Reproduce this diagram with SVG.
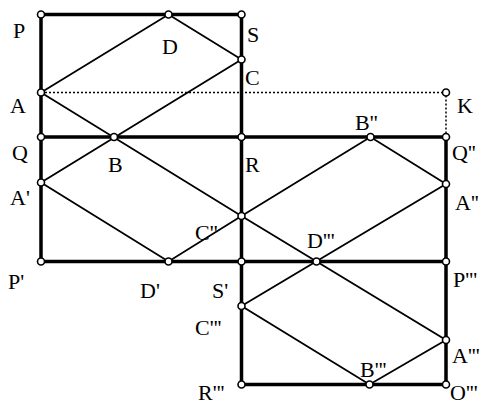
<svg xmlns="http://www.w3.org/2000/svg" width="487" height="405" viewBox="0 0 487 405">
<style>
.frame{stroke:#000;stroke-width:3.5;fill:none;stroke-linecap:square}
.diag{stroke:#000;stroke-width:1.8;fill:none}
.dot{stroke:#000;stroke-width:1.5;fill:none;stroke-dasharray:2 2}
.pt{fill:#fff;stroke:#000;stroke-width:1.6}
text{font-family:"Liberation Serif","Times New Roman",serif;font-size:22px;fill:#000}
</style>
<rect width="487" height="405" fill="#fff"/>
<g id="connectors">
<g id="frames">
<path class="frame" d="M41,14.5 H241.5 V384.5 M41,14.5 V261.5 M41,137 H446 V384.5 M41,261.5 H446 M241.5,384.5 H446"/>
</g>
<g id="dotted">
<path class="dot" d="M41,92.5 H446 V137"/>
</g>
<g id="paths">
<path class="diag" d="M41,92.5 L168.5,14.5 L241.5,59.5 L41,182.5 L168.5,261.5 L241.5,216 L370.5,137 L446,184 L241.5,306 L369.5,384.5 L446,340 L241.5,216 L41,92.5"/>
</g>
</g>
<g id="nodes">
<g id="P"><circle class="pt" cx="41" cy="14.5" r="3.5"/><text x="13" y="38">P</text></g>
<g id="D"><circle class="pt" cx="168.5" cy="14.5" r="3.5"/><text x="162" y="54">D</text></g>
<g id="S"><circle class="pt" cx="241.5" cy="14.5" r="3.5"/><text x="247" y="42">S</text></g>
<g id="C"><circle class="pt" cx="241.5" cy="59.5" r="3.5"/><text x="245" y="85">C</text></g>
<g id="A"><circle class="pt" cx="41" cy="92.5" r="3.5"/><text x="10" y="113">A</text></g>
<g id="K"><circle class="pt" cx="446" cy="92.5" r="3.5"/><text x="457" y="113">K</text></g>
<g id="Q"><circle class="pt" cx="41" cy="137" r="3.5"/><text x="12" y="160">Q</text></g>
<g id="B"><circle class="pt" cx="114" cy="137" r="3.5"/><text x="108" y="172">B</text></g>
<g id="R"><circle class="pt" cx="241.5" cy="137" r="3.5"/><text x="245" y="172">R</text></g>
<g id="B2"><circle class="pt" cx="370.5" cy="137" r="3.5"/><text x="355" y="130">B''</text></g>
<g id="Q2"><circle class="pt" cx="446" cy="137" r="3.5"/><text x="452" y="160">Q''</text></g>
<g id="A1"><circle class="pt" cx="41" cy="182.5" r="3.5"/><text x="10" y="205">A'</text></g>
<g id="A2"><circle class="pt" cx="446" cy="184" r="3.5"/><text x="455" y="210">A''</text></g>
<g id="C2"><circle class="pt" cx="241.5" cy="216" r="3.5"/><text x="195" y="240">C''</text></g>
<g id="P1"><circle class="pt" cx="41" cy="261.5" r="3.5"/><text x="8" y="289">P'</text></g>
<g id="D1"><circle class="pt" cx="168.5" cy="261.5" r="3.5"/><text x="140" y="298">D'</text></g>
<g id="S1"><circle class="pt" cx="241.5" cy="261.5" r="3.5"/><text x="212" y="298">S'</text></g>
<g id="D3"><circle class="pt" cx="316.5" cy="261.5" r="3.5"/><text x="307" y="248">D'''</text></g>
<g id="P3"><circle class="pt" cx="446" cy="261.5" r="3.5"/><text x="453" y="287">P'''</text></g>
<g id="C3"><circle class="pt" cx="241.5" cy="306" r="3.5"/><text x="195" y="335">C'''</text></g>
<g id="A3"><circle class="pt" cx="446" cy="340" r="3.5"/><text x="452" y="363">A'''</text></g>
<g id="B3"><circle class="pt" cx="369.5" cy="384.5" r="3.5"/><text x="360" y="377">B'''</text></g>
<g id="R3"><circle class="pt" cx="241.5" cy="384.5" r="3.5"/><text x="198" y="400">R'''</text></g>
<g id="O3"><circle class="pt" cx="446" cy="384.5" r="3.5"/><text x="450" y="400">O'''</text></g>
</g>
</svg>
